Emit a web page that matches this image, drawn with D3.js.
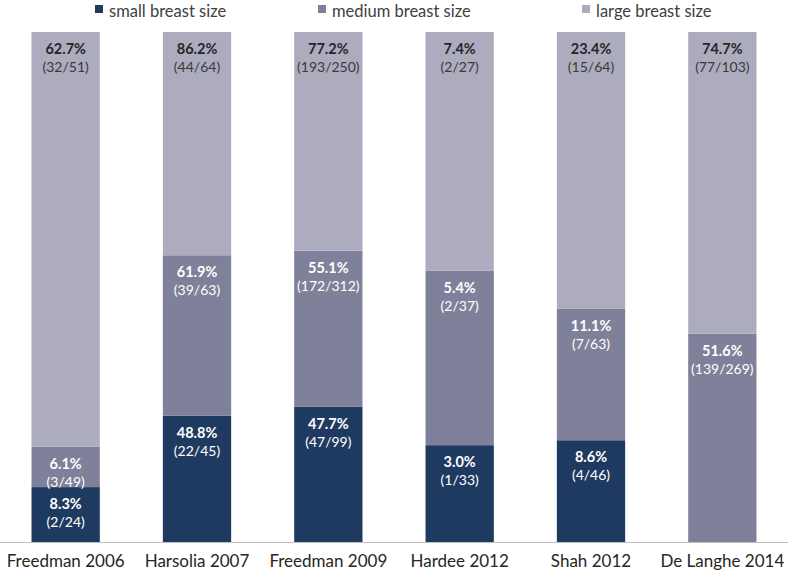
<!DOCTYPE html>
<html>
<head>
<meta charset="utf-8">
<script src="https://cdn.jsdelivr.net/npm/d3@7"></script>
<style>
  html, body { margin: 0; padding: 0; background: #fff; }
  svg { display: block; }
  text { font-family: Lato, "Open Sans", sans-serif; }
</style>
</head>
<body>
<svg id="chart" width="788" height="571"></svg>
<script>
const categories = ["Freedman 2006", "Harsolia 2007", "Freedman 2009", "Hardee 2012", "Shah 2012", "De Langhe 2014"];
const seriesNames = ["small breast size", "medium breast size", "large breast size"];
const smallPct  = [8.3, 48.8, 47.7, 3.0, 8.6, null];
const mediumPct = [6.1, 61.9, 55.1, 5.4, 11.1, 51.6];
const largePct  = [62.7, 86.2, 77.2, 7.4, 23.4, 74.7];
const smallFrac  = ["2/24", "22/45", "47/99", "1/33", "4/46", null];
const mediumFrac = ["3/49", "39/63", "172/312", "2/37", "7/63", "139/269"];
const largeFrac  = ["32/51", "44/64", "193/250", "2/27", "15/64", "77/103"];

const keys = ["small", "medium", "large"];
const colors = { small: "#1f3a60", medium: "#7f8099", large: "#adabbe" };
const pctText = { small: "#ffffff", medium: "#ffffff", large: "#262626" };
const fracText = { small: "#ffffff", medium: "#ffffff", large: "#3a3a3a" };

const table = categories.map((c, i) => ({
  cat: c,
  small: smallPct[i] || 0, medium: mediumPct[i] || 0, large: largePct[i] || 0,
  smallPct: smallPct[i], mediumPct: mediumPct[i], largePct: largePct[i],
  smallFrac: smallFrac[i], mediumFrac: mediumFrac[i], largeFrac: largeFrac[i]
}));

const svg = d3.select("#chart");
const W = 788, H = 571;
const x = d3.scaleBand().domain(categories).range([0, W]).paddingInner(0.48).paddingOuter(0.24);
const y = d3.scaleLinear().domain([0, 1]).range([542, 32]);

const stack = d3.stack().keys(keys).offset(d3.stackOffsetExpand);
const layers = stack(table);

const g = svg.append("g");
layers.forEach(layer => {
  const k = layer.key;
  const lg = g.append("g");
  lg.selectAll("rect").data(layer).join("rect")
    .attr("x", d => x(d.data.cat))
    .attr("width", x.bandwidth())
    .attr("y", d => y(d[1]))
    .attr("height", d => y(d[0]) - y(d[1]))
    .attr("fill", colors[k]);
  const withVal = layer.filter(d => d.data[k + "Pct"] != null);
  lg.selectAll("text.pct").data(withVal).join("text")
    .attr("class", "pct")
    .attr("x", d => x(d.data.cat) + x.bandwidth() / 2)
    .attr("y", d => y(d[1]) + 22)
    .attr("text-anchor", "middle")
    .attr("font-size", 14.5)
    .attr("font-weight", "bold")
    .attr("fill", pctText[k])
    .text(d => d.data[k + "Pct"].toFixed(1) + "%");
  lg.selectAll("text.frac").data(withVal).join("text")
    .attr("class", "frac")
    .attr("x", d => x(d.data.cat) + x.bandwidth() / 2)
    .attr("y", d => y(d[1]) + 40)
    .attr("text-anchor", "middle")
    .attr("font-size", 14)
    .attr("fill", fracText[k])
    .text(d => "(" + d.data[k + "Frac"] + ")");
});

// baseline axis
const xAxis = d3.axisBottom(x).tickSize(0).tickPadding(12);
const ax = svg.append("g").attr("transform", "translate(0,542.5)").call(xAxis);
ax.select(".domain").attr("stroke", "#bfbfbf").attr("d", "M0,0H" + W);
ax.selectAll(".tick text").attr("font-size", 17).attr("fill", "#262626")
  .attr("font-family", "Lato, 'Open Sans', sans-serif");

// legend
const legendX = [95, 318, 582];
const leg = svg.append("g");
keys.forEach((k, i) => {
  leg.append("rect").attr("x", legendX[i]).attr("y", 5).attr("width", 8).attr("height", 8).attr("fill", colors[k]);
  leg.append("text").attr("x", legendX[i] + 14).attr("y", 16.5)
    .attr("font-size", 16.5).attr("fill", "#404040").text(seriesNames[i]);
});
</script>
</body>
</html>
